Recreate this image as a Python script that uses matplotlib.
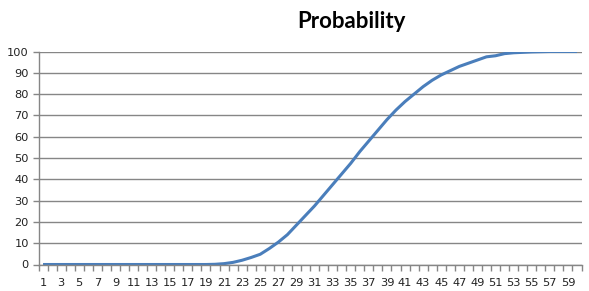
import matplotlib
matplotlib.use('Agg')

import numpy as np
import matplotlib.pyplot as plt

plt.rcParams['font.family'] = ['DejaVu Sans']

# Datos
categorias = list(range(1, 61))
probabilidad = [0] * 19 + [
    0.1, 0.4, 1.0, 2.0, 3.3, 4.8, 7.5, 10.5, 14.0, 18.5,
    23.0, 27.5, 32.5, 37.5, 42.5, 47.5, 53.0, 58.0, 63.0, 68.0,
    72.5, 76.5, 80.0, 83.5, 86.5, 89.0, 91.0, 93.0, 94.5, 96.0,
    97.5, 98.0, 99.0, 99.4, 99.6, 99.8, 99.9, 100, 100, 100, 100,
]
etiquetas_x = [str(c) for c in categorias[::2]]
ticks_y = list(range(0, 101, 10))

gris = '#868686'
azul = '#4A7EBB'

fig = plt.figure(figsize=(5.89, 2.91), dpi=100)
ax = fig.add_axes([38.5 / 589, 26.5 / 291, 543 / 589, 213 / 291])

ax.plot(categorias, probabilidad, color=azul, linewidth=2.2, solid_capstyle='butt')

ax.set_xlim(0.5, 60.5)
ax.set_ylim(0, 100)
ax.set_yticks(ticks_y)
ax.yaxis.grid(True, color=gris, linewidth=1.0)
ax.set_axisbelow(True)

# eje x: marcas entre categorías, etiquetas en las impares
ax.set_xticks(categorias[::2])
ax.set_xticklabels(etiquetas_x)
ax.set_xticks(np.arange(0.5, 61, 1), minor=True)
ax.tick_params(axis='x', which='major', length=0, pad=10, labelsize=8.2, labelcolor='#222222')
ax.tick_params(axis='x', which='minor', length=4, width=1, color=gris, direction='out')
ax.tick_params(axis='y', length=4, width=1, color=gris, pad=3, labelsize=8.2, labelcolor='#222222')

for lado in ['top', 'right']:
    ax.spines[lado].set_visible(False)
for lado in ['left', 'bottom']:
    ax.spines[lado].set_color(gris)
    ax.spines[lado].set_linewidth(1.0)

fig.text(351 / 589, 1 - 21 / 291, 'Probability', ha='center', va='center',
         fontsize=16, fontweight='bold', family=['Lato', 'DejaVu Sans'])

fig.savefig('out.png', dpi=100)
